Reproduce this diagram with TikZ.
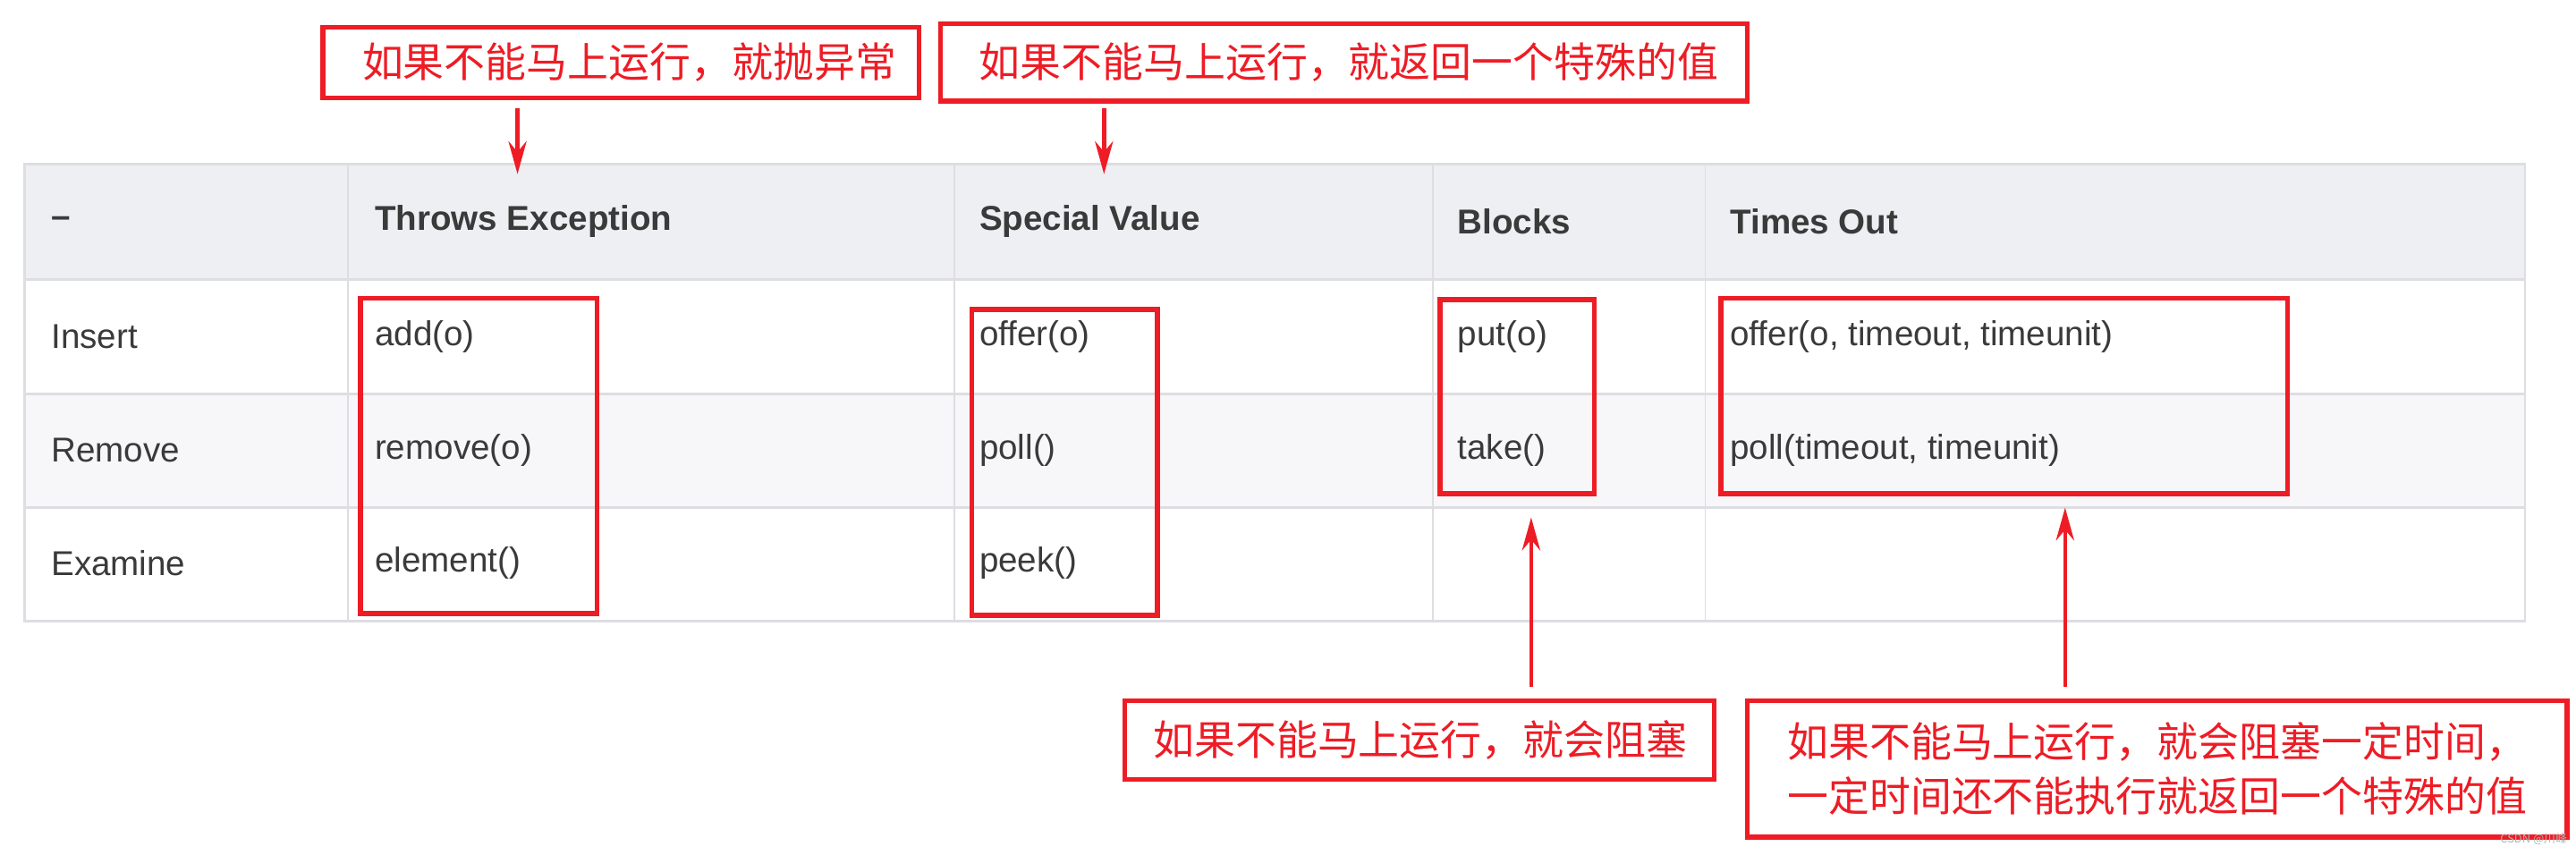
\documentclass[tikz,border=0pt]{standalone}
\usepackage{fontspec}
\setmainfont{Liberation Sans}
\newfontfamily\cjk{Noto Sans CJK SC}
\usetikzlibrary{arrows.meta}
\definecolor{rd}{HTML}{EE1C25}
\definecolor{hdr}{HTML}{EEEFF3}
\definecolor{alt}{HTML}{F7F7F9}
\definecolor{gridc}{HTML}{DDDDE2}
\definecolor{txt}{HTML}{3A3A3A}
\begin{document}
\begin{tikzpicture}[x=1pt,y=-1pt,
  redbox/.style={draw=rd,line width=3pt,inner sep=0pt,anchor=north west},
  note/.style={redbox,font=\cjk\fontsize{25}{33}\selectfont,text=rd,align=left},
  cell/.style={anchor=west,font=\fontsize{21}{25}\selectfont,text=txt,inner sep=0pt},
  head/.style={cell,font=\bfseries\fontsize{21}{25}\selectfont},
  arr/.style={draw=rd,line width=2.5pt,-{Stealth[length=20pt,width=11pt]}}]
\useasboundingbox (0,0) rectangle (1568,520);
\fill[white] (0,0) rectangle (1568,520);
% table
\fill[hdr] (15,100) rectangle (1537,170);
\fill[alt] (15,240) rectangle (1537,309);
\draw[gridc,line width=1.5pt] (15,100) rectangle (1537,378);
\foreach \y in {170,240,309} \draw[gridc,line width=1.5pt] (15,\y) -- (1537,\y);
\foreach \x in {212,581,872,1038} \draw[gridc,line width=1pt] (\x,100) -- (\x,378);
\node[head] (h0) at (31,135) {–};
\node[head] (h1) at (228,135) {Throws Exception};
\node[head] (h2) at (596,135) {Special Value};
\node[head] (h3) at (887,135) {Blocks};
\node[head] (h4) at (1053,135) {Times Out};
\node[cell] (r1) at (31,205) {Insert};
\node[cell] (c11) at (228,205) {add(o)};
\node[cell] (c12) at (596,205) {offer(o)};
\node[cell] (c13) at (887,205) {put(o)};
\node[cell] (c14) at (1053,205) {offer(o, timeout, timeunit)};
\node[cell] (r2) at (31,274) {Remove};
\node[cell] (c21) at (228,274) {remove(o)};
\node[cell] (c22) at (596,274) {poll()};
\node[cell] (c23) at (887,274) {take()};
\node[cell] (c24) at (1053,274) {poll(timeout, timeunit)};
\node[cell] (r3) at (31,343) {Examine};
\node[cell] (c31) at (228,343) {element()};
\node[cell] (c32) at (596,343) {peek()};
% highlight boxes
\node[redbox,minimum width=144,minimum height=192] (bt) at (218,180) {};
\node[redbox,minimum width=113,minimum height=186] (bs) at (590,187) {};
\node[redbox,minimum width=94,minimum height=118] (bb) at (875,181) {};
\node[redbox,minimum width=345,minimum height=119] (bo) at (1046,180) {};
% notes
\node[note,minimum width=363,minimum height=43] (n1) at (195,15) {\hspace{10pt}如果不能马上运行，就抛异常};
\node[note,minimum width=491,minimum height=47] (n2) at (571,13) {\hspace{6pt}如果不能马上运行，就返回一个特殊的值};
\node[note,minimum width=359,minimum height=48] (n3) at (683,425) {\hspace{1pt}如果不能马上运行，就会阻塞};
\node[note,minimum width=499,minimum height=83,inner sep=4pt] (n4) at (1062,425) {如果不能马上运行，就会阻塞一定时间，\\一定时间还不能执行就返回一个特殊的值};
% arrows
\coordinate (e1) at (315,106);
\coordinate (e2) at (672,106);
\coordinate (e3) at (932,315);
\coordinate (e4) at (1257,309);
\draw[arr] (n1.south -| e1) ++(0,5) -- (e1);
\draw[arr] (n2.south -| e2) ++(0,3) -- (e2);
\draw[arr] (n3.north -| e3) ++(0,-7) -- (e3);
\draw[arr] (n4.north -| e4) ++(0,-7) -- (e4);
\node[font=\cjk\fontsize{7}{8}\selectfont,text=gray!60,anchor=south east] (wm) at (1566,518) {CSDN @川峰};
\end{tikzpicture}
\end{document}
